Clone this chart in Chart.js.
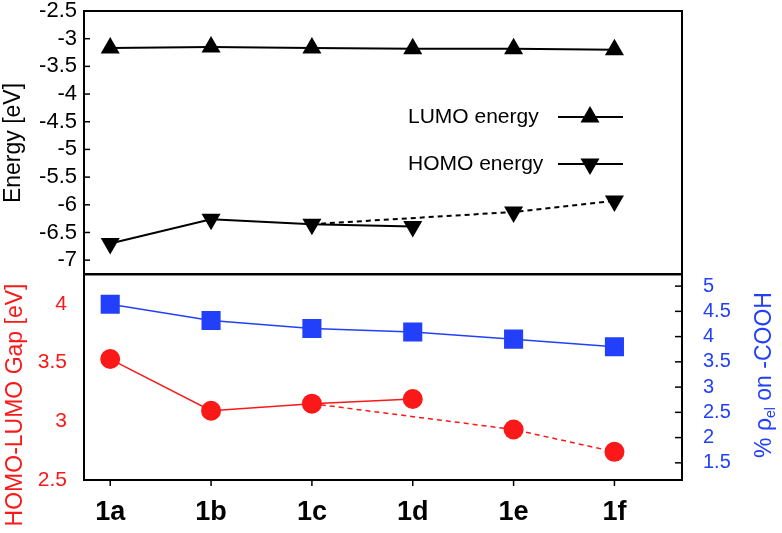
<!DOCTYPE html>
<html>
<head>
<meta charset="utf-8">
<script src="https://cdn.jsdelivr.net/npm/chart.js@4/dist/chart.umd.min.js"></script>
<style>
html, body { margin: 0; padding: 0; background: #fff; }
#wrap { position: relative; width: 782px; height: 533px; }
#bottom-chart { position: absolute; left: 0; top: 261px; }
#top-chart { position: absolute; left: 0; top: 0; }
</style>
</head>
<body>
<div id="wrap">
	<canvas id="bottom-chart" width="782" height="272"></canvas>
	<canvas id="top-chart" width="782" height="285"></canvas>
</div>
<script>
"use strict";

const compounds = ["1a", "1b", "1c", "1d", "1e", "1f"];
const lumoEnergy = [-3.17, -3.15, -3.17, -3.18, -3.18, -3.20];
const homoEnergy = [-6.70, -6.26, -6.35, -6.39, -6.13, -5.93];
const gapEnergy = [3.53, 3.09, 3.15, 3.19, 2.93, 2.74];
const rhoCooh = [4.64, 4.32, 4.16, 4.09, 3.95, 3.80];

// solid line runs 1a..1d, dotted trend joins 1c -> 1e -> 1f
const solidLast = 3;
const trendIndex = [2, 4, 5];

const BLACK = "#000";
const RED = "rgb(250, 24, 24)";
const BLUE = "rgb(34, 64, 250)";
const FONT = "'Liberation Sans', Arial, sans-serif";

Chart.defaults.font.family = FONT;
Chart.defaults.color = BLACK;
Chart.defaults.animation = false;
Chart.defaults.events = [];
Chart.defaults.plugins.legend.display = false;
Chart.defaults.plugins.tooltip.enabled = false;

function toPoints(values){
	return values.map((v, i) => ({x: i, y: v}));
}

function trendPoints(values){
	return trendIndex.map(i => ({x: i, y: values[i]}));
}

function fixWidth(w){
	return scale => {
		scale.width = w;
		scale.paddingTop = 0;
		scale.paddingBottom = 0;
	};
}

const xRange = {min: -0.26, max: 5.67};
const noGrid = {display: false, drawTicks: false};

/* frame + tick marks, drawn from the scales */
const frame = {
	id: "frame",
	afterDraw(chart, args, opts){
		const {ctx, chartArea: a} = chart;
		ctx.save();
		ctx.strokeStyle = BLACK;
		ctx.lineWidth = 2;
		ctx.strokeRect(a.left, a.top, a.right - a.left, a.bottom - a.top);
		ctx.lineWidth = 1.5;
		(opts.marks || []).forEach(m => {
			const s = chart.scales[m.axis];
			s.ticks.forEach(t => {
				const p = s.getPixelForValue(t.value);
				ctx.beginPath();
				if (m.edge === "bottom"){
					ctx.moveTo(p, a.bottom);
					ctx.lineTo(p, a.bottom + m.len);
				} else if (m.edge === "left"){
					ctx.moveTo(a.left, p);
					ctx.lineTo(a.left + m.len, p);
				} else {
					ctx.moveTo(a.right, p);
					ctx.lineTo(a.right - m.len, p);
				}
				ctx.stroke();
			});
		});
		ctx.restore();
	}
};

/* rotated axis titles; parts allow the subscript */
function axisTitles(titles){
	return {
		id: "axisTitles",
		afterDraw(chart){
			const ctx = chart.ctx;
			titles.forEach(t => {
				ctx.save();
				ctx.translate(t.x, t.y);
				ctx.rotate(-Math.PI / 2);
				ctx.fillStyle = t.color;
				ctx.textBaseline = "middle";
				ctx.textAlign = "left";
				const widths = t.parts.map(p => {
					ctx.font = p.size + "px " + FONT;
					return ctx.measureText(p.text).width;
				});
				let x = -widths.reduce((s, w) => s + w, 0) / 2;
				t.parts.forEach((p, i) => {
					ctx.font = p.size + "px " + FONT;
					ctx.fillText(p.text, x, p.shift || 0);
					x += widths[i];
				});
				ctx.restore();
			});
		}
	};
}

/* gnuplot-style key: text on the left, sample on the right */
const energyKey = {
	id: "energyKey",
	afterDraw(chart){
		const ctx = chart.ctx;
		const items = [
			{text: "LUMO energy", y: 117, rotation: 0},
			{text: "HOMO energy", y: 164, rotation: 180}
		];
		ctx.save();
		ctx.font = "21px " + FONT;
		ctx.fillStyle = BLACK;
		ctx.strokeStyle = BLACK;
		ctx.textBaseline = "middle";
		items.forEach(it => {
			ctx.textAlign = "left";
			ctx.fillText(it.text, 408, it.y);
			ctx.lineWidth = 2;
			ctx.beginPath();
			ctx.moveTo(558, it.y);
			ctx.lineTo(623, it.y);
			ctx.stroke();
			Chart.helpers.drawPoint(ctx, {pointStyle: "triangle", radius: 11, rotation: it.rotation, borderWidth: 0}, 590, it.y);
		});
		ctx.restore();
	}
};

new Chart(document.querySelector("#top-chart").getContext("2d"), {
	type: "line",
	data: {
		datasets: [{
			label: "LUMO energy",
			data: toPoints(lumoEnergy),
			borderColor: BLACK,
			backgroundColor: BLACK,
			borderWidth: 2,
			pointStyle: "triangle",
			pointRadius: 11,
			pointBorderWidth: 0,
			order: 0
		}, {
			label: "HOMO energy",
			data: toPoints(homoEnergy),
			borderColor: BLACK,
			backgroundColor: BLACK,
			borderWidth: 2,
			pointStyle: "triangle",
			pointRotation: 180,
			pointRadius: 11,
			pointBorderWidth: 0,
			segment: {
				borderColor: c => c.p0DataIndex >= solidLast ? "rgba(0,0,0,0)" : BLACK
			},
			order: 0
		}, {
			label: "HOMO trend",
			data: trendPoints(homoEnergy),
			borderColor: BLACK,
			borderWidth: 2,
			borderDash: [5, 4],
			pointRadius: 0,
			order: 1
		}]
	},
	options: {
		responsive: false,
		layout: {padding: {left: 0, right: 100, top: 10, bottom: 10}},
		scales: {
			x: {
				type: "linear",
				min: xRange.min,
				max: xRange.max,
				display: false
			},
			y: {
				min: -7.25,
				max: -2.5,
				grid: noGrid,
				border: {display: false},
				ticks: {
					stepSize: 0.5,
					includeBounds: false,
					autoSkip: false,
					maxTicksLimit: 20,
					padding: 7,
					color: BLACK,
					font: {size: 22, lineHeight: 1},
					callback: v => String(v)
				},
				afterFit: fixWidth(84)
			}
		},
		plugins: {
			frame: {marks: [{axis: "y", edge: "left", len: 6}]}
		}
	},
	plugins: [frame, energyKey, axisTitles([
		{x: 14, y: 143, color: BLACK, parts: [{text: "Energy [eV]", size: 23}]}
	])]
});

new Chart(document.querySelector("#bottom-chart").getContext("2d"), {
	type: "line",
	data: {
		datasets: [{
			label: "% rho on -COOH",
			data: toPoints(rhoCooh),
			yAxisID: "yRho",
			borderColor: BLUE,
			backgroundColor: BLUE,
			borderWidth: 1.5,
			pointStyle: "rect",
			pointRadius: 13.5,
			pointBorderWidth: 0,
			order: 0
		}, {
			label: "HOMO-LUMO gap",
			data: toPoints(gapEnergy),
			yAxisID: "yGap",
			borderColor: RED,
			backgroundColor: RED,
			borderWidth: 1.5,
			pointStyle: "circle",
			pointRadius: 10,
			pointBorderWidth: 0,
			segment: {
				borderColor: c => c.p0DataIndex >= solidLast ? "rgba(0,0,0,0)" : RED
			},
			order: 0
		}, {
			label: "gap trend",
			data: trendPoints(gapEnergy),
			yAxisID: "yGap",
			borderColor: RED,
			borderWidth: 1.5,
			borderDash: [5, 4],
			pointRadius: 0,
			order: 1
		}]
	},
	options: {
		responsive: false,
		layout: {padding: {left: 0, right: 0, top: 10, bottom: 0}},
		scales: {
			x: {
				type: "linear",
				min: xRange.min,
				max: xRange.max,
				grid: noGrid,
				border: {display: false},
				afterBuildTicks: scale => {
					scale.ticks = compounds.map((c, i) => ({value: i}));
				},
				ticks: {
					padding: 16,
					color: BLACK,
					font: {size: 27, weight: "bold"},
					autoSkip: false,
					maxRotation: 0,
					callback: v => compounds[v]
				},
				afterFit: scale => {
					scale.height = 53;
					scale.paddingLeft = 0;
					scale.paddingRight = 0;
				}
			},
			yGap: {
				position: "left",
				min: 2.5,
				max: 4.25,
				grid: noGrid,
				border: {display: false},
				ticks: {
					stepSize: 0.5,
					includeBounds: false,
					autoSkip: false,
					padding: 17,
					color: RED,
					font: {size: 21, lineHeight: 1},
					callback: v => String(v)
				},
				afterFit: fixWidth(84)
			},
			yRho: {
				position: "right",
				min: 1.16,
				max: 5.23,
				grid: noGrid,
				border: {display: false},
				ticks: {
					stepSize: 0.5,
					includeBounds: false,
					autoSkip: false,
					maxTicksLimit: 20,
					padding: 21,
					color: BLUE,
					font: {size: 20, lineHeight: 1},
					callback: v => String(v)
				},
				afterFit: fixWidth(100)
			}
		},
		plugins: {
			frame: {
				marks: [
					{axis: "x", edge: "bottom", len: 6},
					{axis: "yRho", edge: "right", len: 7}
				]
			}
		}
	},
	plugins: [frame, axisTitles([
		{x: 16, y: 144, color: RED, parts: [{text: "HOMO-LUMO Gap [eV]", size: 23}]},
		{x: 765, y: 114, color: BLUE, parts: [
			{text: "% \u03c1", size: 23},
			{text: "el", size: 14, shift: 6},
			{text: " on -COOH", size: 23}
		]}
	])]
});
</script>
</body>
</html>
